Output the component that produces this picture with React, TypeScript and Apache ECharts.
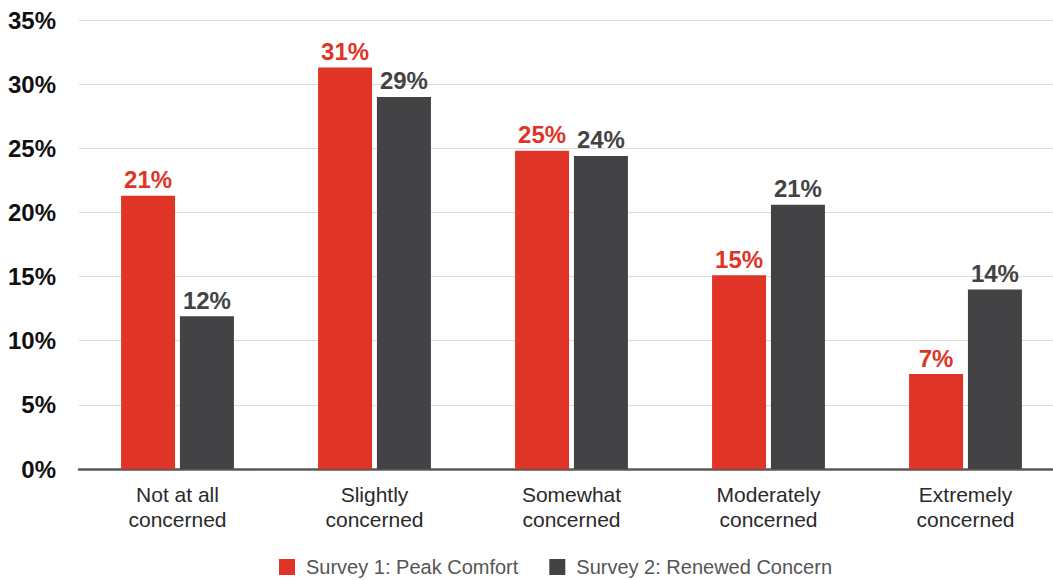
import React, { useEffect, useRef } from "react";
import * as echarts from "echarts";

const categories = [
  "Not at all\nconcerned",
  "Slightly\nconcerned",
  "Somewhat\nconcerned",
  "Moderately\nconcerned",
  "Extremely\nconcerned",
];
const survey1 = [21.3, 31.3, 24.8, 15.1, 7.4];
const survey2 = [11.9, 29.0, 24.4, 20.6, 14.0];
const survey1Labels = ["21%", "31%", "25%", "15%", "7%"];
const survey2Labels = ["12%", "29%", "24%", "21%", "14%"];
const seriesNames = ["Survey 1: Peak Comfort", "Survey 2: Renewed Concern"];

const FONT = "'Liberation Sans', Arial, Helvetica, sans-serif";
const RED = "#e03426";
const GRAY = "#434345";

export default function App() {
  const ref = useRef<HTMLDivElement>(null);
  useEffect(() => {
    if (!ref.current) return;
    const chart = echarts.init(ref.current, undefined, { renderer: "svg" });
    chart.setOption({
      animation: false,
      textStyle: { fontFamily: FONT },
      grid: { left: 79, top: 20, right: 0, bottom: 111, containLabel: false },
      legend: {
        bottom: 3,
        left: 279,
        padding: 0,
        icon: "rect",
        itemWidth: 16,
        itemHeight: 16,
        itemGap: 31,
        textStyle: { fontFamily: FONT, fontSize: 20, color: "#555", padding: [0, 0, 0, 6] },
        data: seriesNames,
      },
      xAxis: {
        type: "category",
        data: categories,
        axisLine: { show: true, lineStyle: { color: "#58585a", width: 2.5 } },
        axisTick: { show: false },
        axisLabel: {
          fontFamily: FONT,
          fontSize: 21,
          color: "#2a2a2a",
          lineHeight: 25,
          margin: 13,
          interval: 0,
        },
      },
      yAxis: {
        type: "value",
        min: 0,
        max: 35,
        interval: 5,
        axisLine: { show: false },
        axisTick: { show: false },
        splitLine: { lineStyle: { color: "#dddddd", width: 1 } },
        axisLabel: {
          formatter: "{value}%",
          fontFamily: FONT,
          fontSize: 24,
          fontWeight: "bold",
          color: "#111",
          margin: 23,
        },
      },
      series: [
        {
          name: seriesNames[0],
          type: "bar",
          data: survey1,
          barWidth: 54,
          barGap: "9%",
          itemStyle: { color: RED },
          label: {
            show: true,
            position: "top",
            distance: 4,
            fontFamily: FONT,
            fontSize: 24,
            fontWeight: "bold",
            color: RED,
            formatter: (p: any) => survey1Labels[p.dataIndex],
          },
        },
        {
          name: seriesNames[1],
          type: "bar",
          data: survey2,
          barWidth: 54,
          barGap: "9%",
          itemStyle: { color: GRAY },
          label: {
            show: true,
            position: "top",
            distance: 4,
            fontFamily: FONT,
            fontSize: 24,
            fontWeight: "bold",
            color: GRAY,
            formatter: (p: any) => survey2Labels[p.dataIndex],
          },
        },
      ],
    });
    return () => chart.dispose();
  }, []);
  return (
    <div
      style={{
        position: "absolute",
        left: 0,
        top: 0,
        width: 1053,
        height: 580,
        overflow: "hidden",
        background: "#fff",
      }}
    >
      <div ref={ref} style={{ width: 1064, height: 580 }} />
    </div>
  );
}
